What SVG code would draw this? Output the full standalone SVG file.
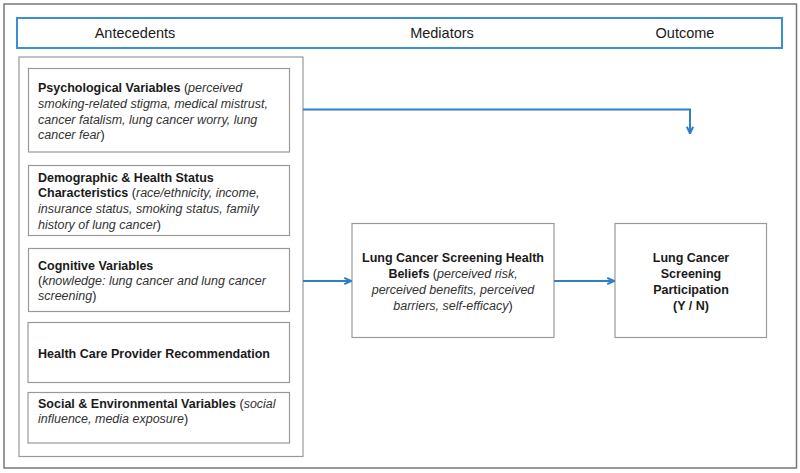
<svg xmlns="http://www.w3.org/2000/svg" width="800" height="473" viewBox="0 0 800 473">
<defs>
<style>
.box{fill:#fff;stroke:#999;stroke-width:1.2}
.t{font-family:"Liberation Sans",Arial,sans-serif;font-size:12.5px;fill:#1a1a1a}
.b{font-weight:bold}
.i{font-style:italic;fill:#333}
.h{font-family:"Liberation Sans",Arial,sans-serif;font-size:14.5px;fill:#1a1a1a}
.c{fill:none;stroke:#2f7fc6;stroke-width:2}
</style>
<marker id="ah" viewBox="0 0 10 10" refX="9" refY="5" markerWidth="9" markerHeight="9" orient="auto" markerUnits="userSpaceOnUse">
<path d="M1.5,1.5 L9,5 L1.5,8.5" fill="none" stroke="#2f7fc6" stroke-width="2.2"/>
</marker>
</defs>
<rect x="0" y="0" width="800" height="473" fill="#fff"/>
<rect id="frame" x="4" y="4" width="792.5" height="464" fill="none" stroke="#777" stroke-width="1.5"/>
<g id="header">
<rect x="17" y="18" width="765" height="30" fill="#fff" stroke="#3a8fd0" stroke-width="2"/>
<text class="h" x="135" y="38" text-anchor="middle">Antecedents</text>
<text class="h" x="442" y="38" text-anchor="middle">Mediators</text>
<text class="h" x="685" y="38" text-anchor="middle">Outcome</text>
</g>
<g id="antecedents">
<rect x="19" y="57" width="284" height="399.5" fill="#fff" stroke="#999" stroke-width="1.2"/>
</g>
<g id="psych">
<rect class="box" x="28.5" y="68.5" width="261" height="83.5"/>
<text class="t" x="38" y="92"><tspan class="b">Psychological Variables</tspan> (<tspan class="i">perceived</tspan></text>
<text class="t i" x="38" y="108">smoking-related stigma, medical mistrust,</text>
<text class="t i" x="38" y="123.5">cancer fatalism, lung cancer worry, lung</text>
<text class="t" x="38" y="139"><tspan class="i">cancer fear</tspan>)</text>
</g>
<g id="demo">
<rect class="box" x="28.5" y="165.5" width="261" height="70"/>
<text class="t b" x="38" y="182">Demographic &amp; Health Status</text>
<text class="t" x="38" y="197"><tspan class="b">Characteristics</tspan> (<tspan class="i">race/ethnicity, income,</tspan></text>
<text class="t i" x="38" y="213">insurance status, smoking status, family</text>
<text class="t" x="38" y="229"><tspan class="i">history of lung cancer</tspan>)</text>
</g>
<g id="cognitive">
<rect class="box" x="28.5" y="248.5" width="261" height="63"/>
<text class="t b" x="38" y="269.5">Cognitive Variables</text>
<text class="t" x="38" y="285">(<tspan class="i">knowledge: lung cancer and lung cancer</tspan></text>
<text class="t" x="38" y="300"><tspan class="i">screening</tspan>)</text>
</g>
<g id="provider">
<rect class="box" x="28" y="322.5" width="261.5" height="60"/>
<text class="t b" x="38" y="357.5">Health Care Provider Recommendation</text>
</g>
<g id="social">
<rect class="box" x="28" y="392.5" width="261.5" height="50.5"/>
<text class="t" x="38" y="407.5"><tspan class="b">Social &amp; Environmental Variables</tspan> (<tspan class="i">social</tspan></text>
<text class="t" x="38" y="423"><tspan class="i">influence, media exposure</tspan>)</text>
</g>
<g id="mediator">
<rect class="box" x="352" y="223.5" width="202" height="114"/>
<text class="t b" x="453" y="262" text-anchor="middle">Lung Cancer Screening Health</text>
<text class="t" x="453" y="278" text-anchor="middle"><tspan class="b">Beliefs</tspan> (<tspan class="i">perceived risk,</tspan></text>
<text class="t i" x="453" y="294" text-anchor="middle">perceived benefits, perceived</text>
<text class="t" x="453" y="310" text-anchor="middle"><tspan class="i">barriers, self-efficacy</tspan>)</text>
</g>
<g id="outcome">
<rect class="box" x="615" y="223.5" width="151.5" height="114"/>
<text class="t b" x="691" y="262" text-anchor="middle">Lung Cancer</text>
<text class="t b" x="691" y="278" text-anchor="middle">Screening</text>
<text class="t b" x="691" y="294" text-anchor="middle">Participation</text>
<text class="t b" x="691" y="310" text-anchor="middle">(Y / N)</text>
</g>
<g id="connectors">
<path class="c" d="M303,109.5 H690 V133.5" marker-end="url(#ah)"/>
<path class="c" d="M303,281 H351" marker-end="url(#ah)"/>
<path class="c" d="M554,281 H614" marker-end="url(#ah)"/>
</g>
</svg>
